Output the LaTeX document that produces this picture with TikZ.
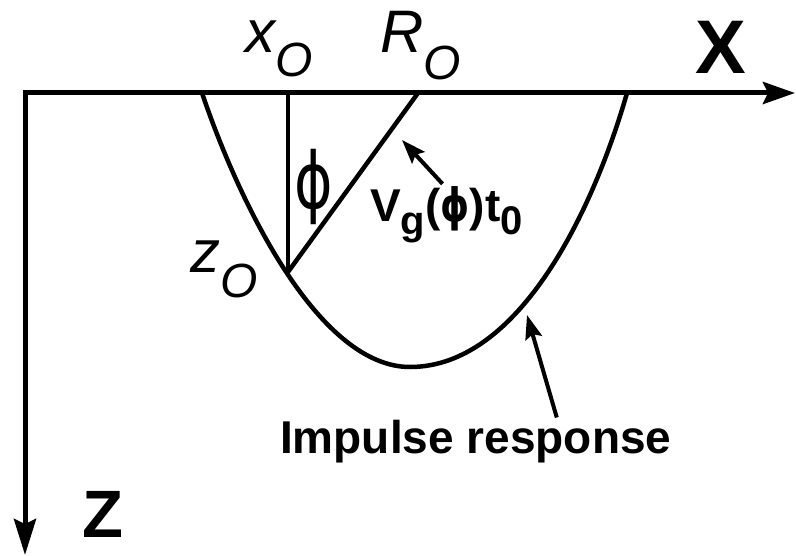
\documentclass[tikz,border=0pt]{standalone}
\usepackage{fontspec}
\setmainfont{Liberation Sans}
\newfontfamily\greekfont{DejaVu Sans}
\usetikzlibrary{arrows.meta}

\tikzset{
  axis/.style={line width=5pt, line join=miter,
    {Stealth[length=32pt,width=22pt,inset=5pt]}-{Stealth[length=36pt,width=22pt,inset=5pt]}},
  ray/.style={line width=4.5pt},
  pointer/.style={line width=4pt, -{Stealth[length=24pt,width=17pt,inset=4pt]}},
  lab/.style={inner sep=0pt, anchor=base west},
}
\newcommand{\fsz}[1]{\fontsize{#1}{#1}\selectfont}

\begin{document}
\begin{tikzpicture}[x=1pt, y=-1pt]
\useasboundingbox (0,0) rectangle (796,556);
% axes
\coordinate (origin) at (25,93);
\coordinate (xend) at (795,93);
\coordinate (zend) at (25,555);
\draw[axis] (xend) -- (origin) -- (zend);
\node[inner sep=0pt] (xlab) at (721,47) {\fsz{76}\bfseries X};
\node[inner sep=0pt] (zlab) at (103,514) {\fsz{67}\bfseries Z};
% impulse response
\draw[ray] (202,93) .. controls (241,208) and (320,367) .. (410,367)
  .. controls (520,367) and (594,208) .. (627,93);
% source, scatter point and receiver
\coordinate (xo) at (288,93);
\coordinate (zo) at (288,272);
\coordinate (Ro) at (418,93);
\draw[line width=3.5pt] (xo) -- (zo);
\draw[ray] (zo) -- (Ro);
\node[lab] (xolab) at (245,53) {\fsz{60}\itshape x\raisebox{-24pt}{\fsz{48}O}};
\node[lab] (Rolab) at (380,53) {\fsz{60}\itshape R\raisebox{-27pt}{\fsz{48}O}};
\node[lab] (zolab) at (190,273) {\fsz{60}\itshape z\raisebox{-25pt}{\fsz{48}O}};
\node[inner sep=0pt] (phi) at (314,187) {\fsz{78}\greekfont\scalebox{0.75}[1]{ϕ}};
% labels with pointers
\node[lab] (vg) at (370,222) {\fsz{46}\bfseries V\raisebox{-13pt}{\fsz{40}g}({\greekfont\scalebox{0.8}[1]{ϕ}})t\raisebox{-13pt}{\fsz{40}0}};
\coordinate (vgtip) at (402,140);
\draw[pointer] ([xshift=-4pt,yshift=3pt]vg.north) -- (vgtip);
\node[lab] (imp) at (280,453) {\fsz{46}\bfseries Impulse response};
\coordinate (imptip) at (527,315);
\draw[pointer] ([xshift=81pt,yshift=2pt]imp.north) -- (imptip);
\end{tikzpicture}
\end{document}
